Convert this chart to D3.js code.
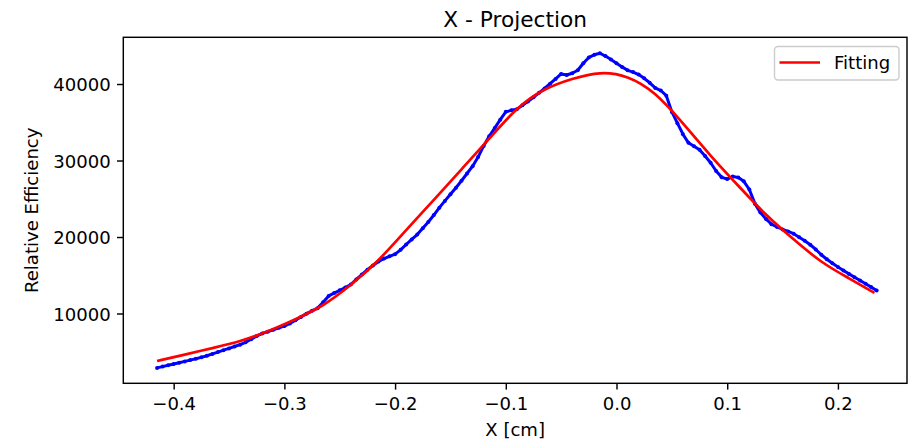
<!DOCTYPE html>
<html>
<head>
<meta charset="utf-8">
<script src="https://cdn.jsdelivr.net/npm/d3@7/dist/d3.min.js"></script>
<style>
  body { margin: 0; background: #ffffff; }
  svg { display: block; }
  text { font-family: "DejaVu Sans", "Liberation Sans", sans-serif; fill: #000; }
</style>
</head>
<body>
<svg id="chart" width="910" height="443"></svg>
<script>
// Measured projection along X (blue points)
const measX = [
  -0.415,-0.41,-0.405,-0.4,-0.395,-0.39,-0.385,-0.38,-0.375,-0.37,
  -0.365,-0.36,-0.355,-0.35,-0.345,-0.34,-0.335,-0.33,-0.325,-0.32,
  -0.315,-0.31,-0.305,-0.3,-0.295,-0.29,-0.285,-0.28,-0.275,-0.27,
  -0.265,-0.26,-0.255,-0.25,-0.245,-0.24,-0.235,-0.23,-0.225,-0.22,
  -0.215,-0.21,-0.205,-0.2,-0.195,-0.19,-0.185,-0.18,-0.175,-0.17,
  -0.165,-0.16,-0.155,-0.15,-0.145,-0.14,-0.135,-0.13,-0.125,-0.12,
  -0.115,-0.11,-0.105,-0.1,-0.095,-0.09,-0.085,-0.08,-0.075,-0.07,
  -0.065,-0.06,-0.055,-0.05,-0.045,-0.04,-0.035,-0.03,-0.025,-0.02,
  -0.015,-0.01,-0.005,0,0.005,0.01,0.015,0.02,0.025,0.03,
  0.035,0.04,0.045,0.05,0.055,0.06,0.065,0.07,0.075,0.08,
  0.085,0.09,0.095,0.1,0.105,0.11,0.115,0.12,0.125,0.13,
  0.135,0.14,0.145,0.15,0.155,0.16,0.165,0.17,0.175,0.18,
  0.185,0.19,0.195,0.2,0.205,0.21,0.215,0.22,0.225,0.23,
  0.235
];
const measY = [
  2890,3060,3230,3400,3570,3740,3910,4080,4270,4480,
  4720,4960,5210,5440,5690,5930,6240,6650,7050,7390,
  7630,7880,8130,8360,8710,9130,9560,9980,10350,10700,
  11460,12300,12670,13030,13390,13790,14450,15100,15730,16280,
  16810,17180,17470,17760,18320,19020,19680,20320,21140,21960,
  22870,23840,24720,25580,26440,27350,28300,29260,30450,31910,
  33170,34240,35340,36360,36560,36700,37210,37720,38270,38850,
  39420,40040,40670,41320,41180,41410,41800,42710,43470,43820,
  44020,43650,43200,42720,42240,41790,41560,41230,40740,40160,
  39490,39150,38480,36350,34880,33440,32310,31860,31400,30580,
  29710,28630,27800,27580,27900,27790,27280,26210,24360,23190,
  22370,21670,21310,20990,20730,20440,19980,19520,18990,18370,
  17680,17090,16560,16070,15620,15180,14750,14310,13880,13450,
  13000
];

// Fitted curve (red line)
const fitX = [
  -0.415,-0.39,-0.365,-0.34,-0.315,-0.29,-0.265,-0.24,-0.215,-0.19,
  -0.165,-0.14,-0.115,-0.09,-0.065,-0.04,-0.015,0.01,0.035,0.06,
  0.085,0.11,0.135,0.16,0.185,0.21,0.233
];
const fitY = [
  3790,4630,5480,6400,7680,9260,11110,13750,17000,20900,
  24850,28850,32850,36700,39250,40650,41400,40850,38650,34850,
  30650,26700,22950,19700,16800,14600,12700
];

const xTicks = [-0.4, -0.3, -0.2, -0.1, 0.0, 0.1, 0.2];
const yTicks = [10000, 20000, 30000, 40000];
const xDomain = [-0.4455, 0.2624];
const yDomain = [877, 46107];

const titleText = "X - Projection";
const xLabelText = "X [cm]";
const yLabelText = "Relative Efficiency";
const legendText = "Fitting";

// ---- layout ----
const plot = { left: 123.3, right: 907, top: 37.3, bottom: 383.3 };
const fs = 18.06;        // 10pt at 130 dpi
const titleFs = 21.7;    // 12pt
const tickLen = 6.3, tickPad = 6.3;
const spineW = 1.44;

const svg = d3.select("#chart");

const x = d3.scaleLinear().domain(xDomain).range([plot.left, plot.right]);
const y = d3.scaleLinear().domain(yDomain).range([plot.bottom, plot.top]);

const minus = s => s.replace("-", "\u2212");

// measured points
const meas = measX.map((v, i) => [v, measY[i]]);
const gMeas = svg.append("g");
gMeas.append("path")
  .datum(meas)
  .attr("fill", "none")
  .attr("stroke", "#0000ff")
  .attr("stroke-width", 3.0)
  .attr("stroke-linejoin", "round")
  .attr("d", d3.line().x(d => x(d[0])).y(d => y(d[1])));
gMeas.selectAll("circle")
  .data(meas)
  .join("circle")
  .attr("cx", d => x(d[0]))
  .attr("cy", d => y(d[1]))
  .attr("r", 2.0)
  .attr("fill", "#0000ff");

// fitted curve
const fit = fitX.map((v, i) => [v, fitY[i]]);
svg.append("path")
  .datum(fit)
  .attr("fill", "none")
  .attr("stroke", "#ff0000")
  .attr("stroke-width", 2.7)
  .attr("stroke-linejoin", "round")
  .attr("d", d3.line().curve(d3.curveNatural).x(d => x(d[0])).y(d => y(d[1])));

// axes
const xAxis = d3.axisBottom(x)
  .tickValues(xTicks)
  .tickSize(tickLen)
  .tickPadding(tickPad)
  .tickFormat(d => minus(d3.format(".1f")(d)));
const gx = svg.append("g")
  .attr("transform", `translate(0,${plot.bottom})`)
  .call(xAxis);
gx.select(".domain").remove();
gx.selectAll(".tick line").attr("stroke", "#000").attr("stroke-width", spineW);
gx.selectAll(".tick text")
  .attr("font-size", fs)
  .attr("font-family", "DejaVu Sans")
  .attr("fill", "#000")
  .attr("dy", null)
  .attr("y", 26.5);

const yAxis = d3.axisLeft(y)
  .tickValues(yTicks)
  .tickSize(tickLen)
  .tickPadding(tickPad)
  .tickFormat(d3.format("d"));
const gy = svg.append("g")
  .attr("transform", `translate(${plot.left},0)`)
  .call(yAxis);
gy.select(".domain").remove();
gy.selectAll(".tick line").attr("stroke", "#000").attr("stroke-width", spineW);
gy.selectAll(".tick text")
  .attr("font-size", fs)
  .attr("font-family", "DejaVu Sans")
  .attr("fill", "#000")
  .attr("dy", "0.38em");

// frame
svg.append("rect")
  .attr("x", plot.left)
  .attr("y", plot.top)
  .attr("width", plot.right - plot.left)
  .attr("height", plot.bottom - plot.top)
  .attr("fill", "none")
  .attr("stroke", "#000")
  .attr("stroke-width", spineW);

// title and axis labels
svg.append("text")
  .attr("x", (plot.left + plot.right) / 2)
  .attr("y", 26.5)
  .attr("text-anchor", "middle")
  .attr("font-size", titleFs)
  .text(titleText);

svg.append("text")
  .attr("x", (plot.left + plot.right) / 2)
  .attr("y", 436)
  .attr("text-anchor", "middle")
  .attr("font-size", fs)
  .text(xLabelText);

svg.append("text")
  .attr("transform", `translate(37.5,${(plot.top + plot.bottom) / 2}) rotate(-90)`)
  .attr("text-anchor", "middle")
  .attr("font-size", fs)
  .text(yLabelText);

// legend
const lg = svg.append("g");
lg.append("rect")
  .attr("x", 774.5).attr("y", 46.5)
  .attr("width", 124.5).attr("height", 33.5)
  .attr("rx", 3.5)
  .attr("fill", "#ffffff").attr("fill-opacity", 0.8)
  .attr("stroke", "#cccccc").attr("stroke-width", 1.4);
lg.append("line")
  .attr("x1", 779.5).attr("x2", 820)
  .attr("y1", 62.5).attr("y2", 62.5)
  .attr("stroke", "#ff0000").attr("stroke-width", 2.7);
lg.append("text")
  .attr("x", 834).attr("y", 69.2)
  .attr("font-size", fs)
  .text(legendText);
</script>
</body>
</html>
